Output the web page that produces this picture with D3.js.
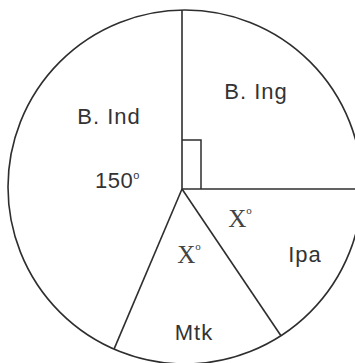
<!DOCTYPE html>
<html>
<head>
<meta charset="utf-8">
<script src="https://cdn.jsdelivr.net/npm/d3@7"></script>
<style>
  body { margin: 0; background: #fff; }
  svg { display: block; }
</style>
</head>
<body>
<script>
// Subjects and the sector sizes as drawn (degrees)
var subjects = ['B. Ing', 'Ipa', 'Mtk', 'B. Ind'];
var degrees = [90, 56, 57, 157];

// Text written inside the sectors
var angleLabels = ['X°', 'X°', '150°'];

let width = 355;
let height = 363;

// Circle outline and the point where the sector lines meet
let cx = 185, cy = 187, radius = 177;
let vx = 182, vy = 189;

var svg = d3.select('body')
            .append('svg')
            .attr('width', width)
            .attr('height', height);

var pie = d3.pie().sort(null).value(d => d);
var arcs = pie(degrees);

// Outer circle
svg.append('circle')
   .attr('cx', cx).attr('cy', cy).attr('r', radius)
   .attr('fill', 'none').attr('stroke', '#2e2e2e').attr('stroke-width', 1.6);

// Length of a ray from the vertex to the circle at angle a (clockwise from top)
function rayLength(a) {
  let dx = Math.sin(a), dy = -Math.cos(a);
  let wx = vx - cx, wy = vy - cy;
  let b = wx * dx + wy * dy;
  return -b + Math.sqrt(b * b - (wx * wx + wy * wy) + radius * radius);
}

// Sector boundary lines
arcs.forEach(function(d) {
  let a = d.startAngle;
  let t = rayLength(a);
  svg.append('line')
     .attr('x1', vx).attr('y1', vy)
     .attr('x2', vx + t * Math.sin(a)).attr('y2', vy - t * Math.cos(a))
     .attr('stroke', '#2e2e2e').attr('stroke-width', 1.6);
});

// Right angle mark in the B. Ing sector
svg.append('path')
   .attr('d', 'M' + vx + ',' + (vy - 49) + 'H' + (vx + 19) + 'V' + vy)
   .attr('fill', 'none').attr('stroke', '#2e2e2e').attr('stroke-width', 1.5);

// Subject names
var nameSpots = [[256, 99], [305, 262], [194, 340], [109, 124]];
subjects.forEach(function(s, i) {
  svg.append('text')
     .attr('x', nameSpots[i][0]).attr('y', nameSpots[i][1])
     .attr('text-anchor', 'middle')
     .style('font-family', 'Liberation Sans, Arial, sans-serif')
     .style('font-size', '22px')
     .style('letter-spacing', '1px')
     .attr('fill', '#333')
     .text(s);
});

// Angle labels: two X in serif, 150 in sans
var xSpots = [[240, 227], [189, 263]];
xSpots.forEach(function(p, i) {
  var t = svg.append('text')
     .attr('x', p[0]).attr('y', p[1])
     .attr('text-anchor', 'middle')
     .style('font-family', 'Liberation Serif, Times New Roman, serif')
     .style('font-size', '25px')
     .attr('fill', '#444');
  t.append('tspan').text(angleLabels[i].charAt(0));
  t.append('tspan').attr('dy', -13).style('font-size', '11px').text('o');
});

var deg = svg.append('text')
   .attr('x', 95).attr('y', 188)
   .style('font-family', 'Liberation Sans, Arial, sans-serif')
   .style('font-size', '22px')
   .style('letter-spacing', '0.5px')
   .attr('fill', '#333');
deg.append('tspan').text(angleLabels[2].replace('°', ''));
deg.append('tspan').attr('dy', -9).style('font-size', '11px').text('o');
</script>
</body>
</html>
